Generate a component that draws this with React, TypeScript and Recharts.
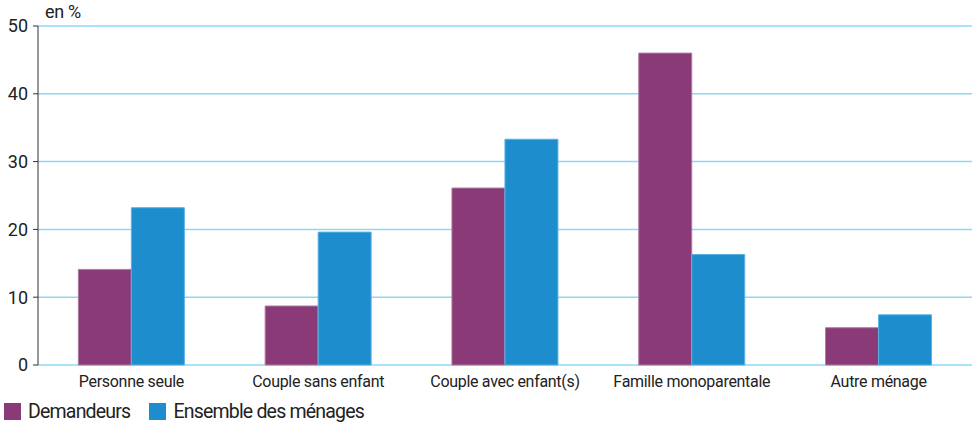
import React from "react";
import { Bar, BarChart, CartesianGrid, XAxis, YAxis } from "recharts";

const categories = [
  "Personne seule",
  "Couple sans enfant",
  "Couple avec enfant(s)",
  "Famille monoparentale",
  "Autre ménage",
];
const demandeurs = [14.1, 8.7, 26.1, 46.0, 5.5];
const ensemble = [23.2, 19.6, 33.3, 16.3, 7.4];
const yTicks = [0, 10, 20, 30, 40, 50];
const edgeTicks = [0, 1, 2, 3, 4, 5];

const series = [
  { key: "demandeurs", name: "Demandeurs", fill: "#8a3a76", stroke: "#b07aa2" },
  { key: "ensemble", name: "Ensemble des ménages", fill: "#1d8dcd", stroke: "#5cb3e3" },
];

const data = categories.map((name, i) => ({
  name,
  demandeurs: demandeurs[i],
  ensemble: ensemble[i],
}));

const FONT = 'Roboto, "Noto Sans", sans-serif';

export default function App() {
  return (
    <div style={{ position: "absolute", left: 0, top: 0, width: 974, height: 423, fontFamily: FONT, background: "#fff" }}>
      <div style={{ position: "absolute", left: 45, top: 1, fontSize: 18, color: "#222", letterSpacing: -0.3 }}>en %</div>
      <BarChart
        width={974}
        height={423}
        data={data}
        margin={{ top: 26, right: 2, left: 0, bottom: 28 }}
        barCategoryGap="21.6%"
        barGap={0}
      >
        <CartesianGrid xAxisId="cat" vertical={false} stroke="#8ed8f7" strokeWidth={1.5} />
        <XAxis
          xAxisId="edge"
          type="number"
          domain={[0, 5]}
          ticks={edgeTicks}
          tick={false}
          tickSize={5}
          height={0}
          axisLine={{ stroke: "#333" }}
          tickLine={{ stroke: "#333" }}
        />
        <XAxis
          xAxisId="cat"
          dataKey="name"
          interval={0}
          axisLine={false}
          tickLine={false}
          tickMargin={5}
          height={30}
          tick={{ fill: "#222", fontSize: 16, fontFamily: FONT, letterSpacing: -0.3 }}
        />
        <YAxis
          domain={[0, 50]}
          ticks={yTicks}
          width={38}
          tickSize={5}
          tickMargin={5}
          axisLine={{ stroke: "#333" }}
          tickLine={{ stroke: "#333" }}
          tick={{ fill: "#222", fontSize: 18, fontFamily: FONT }}
        />
        {series.map((s) => (
          <Bar
            key={s.key}
            xAxisId="cat"
            dataKey={s.key}
            name={s.name}
            fill={s.fill}
            stroke={s.stroke}
            strokeWidth={1}
            isAnimationActive={false}
          />
        ))}
      </BarChart>
      <div style={{ position: "absolute", left: 4, top: 400, display: "flex", alignItems: "center", fontSize: 19.5, color: "#222", letterSpacing: -0.8 }}>
        {series.map((s) => (
          <div key={s.key} style={{ display: "flex", alignItems: "center", marginRight: 19 }}>
            <span style={{ display: "inline-block", width: 17, height: 17, background: s.fill, marginRight: 7 }} />
            <span>{s.name}</span>
          </div>
        ))}
      </div>
    </div>
  );
}
